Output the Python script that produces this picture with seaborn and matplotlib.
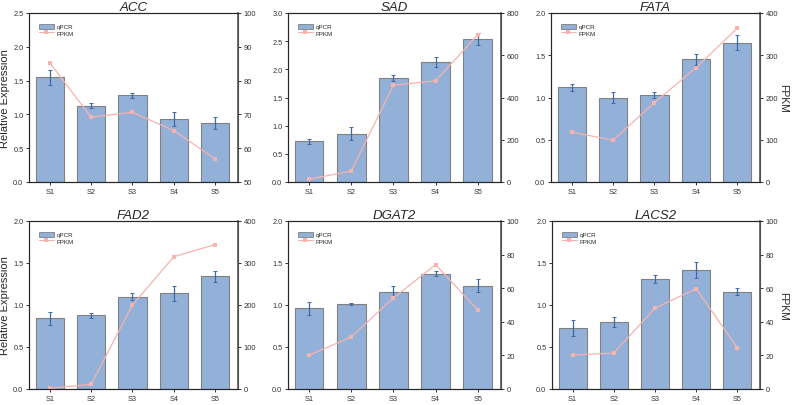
import seaborn as sns
import pandas as pd
from matplotlib import pyplot as plt
from matplotlib.patches import Patch
from matplotlib.lines import Line2D

stages = ["S1", "S2", "S3", "S4", "S5"]
genes = ["ACC", "SAD", "FATA", "FAD2", "DGAT2", "LACS2"]

acc_qpcr = [1.55, 1.13, 1.28, 0.93, 0.87]
acc_err = [0.11, 0.04, 0.03, 0.10, 0.09]
acc_fpkm = [85.3, 69.2, 70.6, 65.2, 56.8]

sad_qpcr = [0.72, 0.86, 1.85, 2.13, 2.54]
sad_err = [0.05, 0.11, 0.05, 0.09, 0.10]
sad_fpkm = [13, 52, 458, 479, 697]

fata_qpcr = [1.12, 1.00, 1.03, 1.45, 1.65]
fata_err = [0.045, 0.06, 0.035, 0.06, 0.09]
fata_fpkm = [118, 99, 188, 270, 364]

fad2_qpcr = [0.84, 0.88, 1.10, 1.14, 1.34]
fad2_err = [0.08, 0.03, 0.04, 0.09, 0.065]
fad2_fpkm = [1.6, 11, 200, 315, 344]

dgat2_qpcr = [0.96, 1.01, 1.16, 1.37, 1.23]
dgat2_err = [0.08, 0.015, 0.065, 0.03, 0.075]
dgat2_fpkm = [20.1, 31, 54.2, 74, 47]

lacs2_qpcr = [0.73, 0.80, 1.31, 1.42, 1.16]
lacs2_err = [0.095, 0.06, 0.045, 0.095, 0.045]
lacs2_fpkm = [20.2, 21.4, 48.1, 59.7, 24.6]

qpcr = [acc_qpcr, sad_qpcr, fata_qpcr, fad2_qpcr, dgat2_qpcr, lacs2_qpcr]
errs = [acc_err, sad_err, fata_err, fad2_err, dgat2_err, lacs2_err]
fpkm = [acc_fpkm, sad_fpkm, fata_fpkm, fad2_fpkm, dgat2_fpkm, lacs2_fpkm]

left_max = [2.5, 3.0, 2.0, 2.0, 2.0, 2.0]
right_lim = [(50, 100), (0, 800), (0, 400), (0, 400), (0, 100), (0, 100)]
right_step = [10, 200, 100, 100, 20, 20]

sns.set_style("ticks")
plt.rcParams['font.family'] = ['Liberation Sans', 'DejaVu Sans']

bar_col = "#93b1d8"
edge_col = "#808080"
err_col = "#3d68aa"
line_col = "#f7b3ae"

fig = plt.figure(figsize=(7.93, 4.06), dpi=100)

# axes boxes in pixels: left, right, top, bottom
boxes = [(29, 238, 14, 183), (288, 501, 14, 183), (551, 760, 14, 183),
         (29, 238, 222, 390), (288, 501, 222, 390), (552, 760, 222, 390)]

for i, g in enumerate(genes):
    l, r, t, b = boxes[i]
    ax = fig.add_axes([l / 793, (406 - b) / 406, (r - l) / 793, (b - t) / 406])
    df = pd.DataFrame({"stage": stages, "qpcr": qpcr[i], "err": errs[i], "fpkm": fpkm[i]})

    sns.barplot(data=df, x="stage", y="qpcr", color=bar_col, edgecolor=edge_col,
                linewidth=0.8, width=0.68, saturation=1, ax=ax, errorbar=None)
    ax.errorbar(range(5), df["qpcr"], yerr=df["err"], fmt="none", ecolor=err_col,
                elinewidth=0.9, capsize=1.5, capthick=0.7)
    ax.set_ylim(0, left_max[i])
    ax.set_yticks([k * 0.5 for k in range(int(left_max[i] / 0.5) + 1)])
    ax.set_xlim(-0.5, 4.55)
    ax.set_xlabel("")
    ax.set_ylabel("")
    ax.set_title(g, fontstyle="italic", fontsize=9.5, pad=2)
    ax.tick_params(labelsize=5.3, length=2.5, width=0.7, pad=1.5, colors="#333333")
    for s in ax.spines.values():
        s.set_linewidth(0.8)
        s.set_color("#444444")

    ax2 = ax.twinx()
    sns.lineplot(data=df, x="stage", y="fpkm", color=line_col, marker="s",
                 markersize=2.8, markeredgewidth=0, linewidth=0.9, ax=ax2, sort=False)
    ax2.set_ylim(*right_lim[i])
    lo, hi = right_lim[i]
    ax2.set_yticks(range(lo, hi + 1, right_step[i]))
    ax2.set_ylabel("")
    ax2.set_xlabel("")
    ax2.tick_params(labelsize=5.5, length=2.5, width=0.7, pad=1.5, colors="#333333")
    ax2.spines["right"].set_linewidth(1.2)
    ax2.spines["right"].set_color("#555555")

    if i % 3 == 0:
        ax.set_ylabel("Relative Expression", fontsize=8, labelpad=2)
    if i % 3 == 2:
        ax2.set_ylabel("FPKM", fontsize=7.5, rotation=270, labelpad=7.5)

    handles = [Patch(facecolor=bar_col, edgecolor=edge_col, linewidth=0.6),
               Line2D([], [], color=line_col, marker="s", markersize=2.2, markeredgewidth=0, linewidth=0.8)]
    ax.legend(handles, ["qPCR", "FPKM"], loc="upper left", fontsize=4.5, frameon=False,
              handlelength=2.4, handleheight=0.9, labelspacing=0.1,
              handletextpad=0.4, bbox_to_anchor=(0.02, 0.97))

fig.savefig("out.png", dpi=100)
